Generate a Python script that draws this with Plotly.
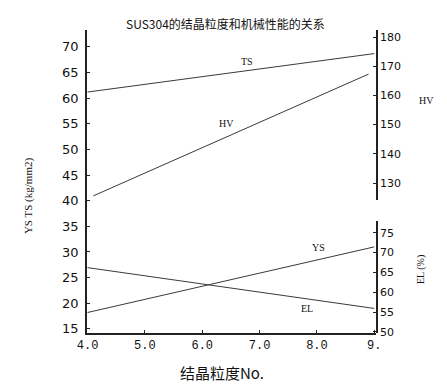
import plotly.graph_objects as go

# ---- data ----
grain_x = [4.0, 9.0]
ts_vals = [61.2, 68.7]          # TS (kg/mm2), left axis
ys_vals = [18.2, 31.0]          # YS (kg/mm2), left axis
hv_x = [4.1, 8.9]
hv_vals = [125.6, 167.3]        # HV, upper right axis
el_vals = [66.2, 55.9]          # EL (%), lower right axis

x_tickvals = [4, 5, 6, 7, 8, 9]
x_ticktext = ["4.0", "5.0", "6.0", "7.0", "8.0", "9."]
left_ticks = [15, 20, 25, 30, 35, 40, 45, 50, 55, 60, 65, 70]
hv_ticks = [130, 140, 150, 160, 170, 180]
el_ticks = [50, 55, 60, 65, 70, 75]

LINE = "#3a3a3a"
AX = "#222222"
CJK = "Noto Sans CJK SC"

fig = go.Figure()
fig.add_trace(go.Scatter(x=grain_x, y=ts_vals, mode="lines", line=dict(color=LINE, width=1), xaxis="x", yaxis="y", name="TS"))
fig.add_trace(go.Scatter(x=grain_x, y=ys_vals, mode="lines", line=dict(color=LINE, width=1), xaxis="x", yaxis="y", name="YS"))
fig.add_trace(go.Scatter(x=hv_x, y=hv_vals, mode="lines", line=dict(color=LINE, width=1), xaxis="x", yaxis="y2", name="HV"))
fig.add_trace(go.Scatter(x=grain_x, y=el_vals, mode="lines", line=dict(color=LINE, width=1), xaxis="x", yaxis="y3", name="EL"))

common = dict(showgrid=False, zeroline=False, showline=True, linecolor=AX, linewidth=1.5,
              ticks="inside", ticklen=3, tickcolor=AX, fixedrange=True, automargin=False)

fig.update_layout(
    width=439, height=376,
    margin=dict(l=79, r=71, t=22, b=51),
    paper_bgcolor="white", plot_bgcolor="rgba(0,0,0,0)",
    showlegend=False,
    xaxis=dict(range=[3.99, 9.03], tickvals=x_tickvals, ticktext=x_ticktext, anchor="y",
               tickfont=dict(family="Liberation Mono", size=12, color="#111"), **common),
    yaxis=dict(range=[14.2, 73.3], tickvals=left_ticks, domain=[0, 1], anchor="x",
               tickfont=dict(family="DejaVu Sans", size=13, color="#111"), ticklabelstandoff=4, **common),
    yaxis2=dict(range=[124.2, 182.4], tickvals=hv_ticks, domain=[0.439, 1], anchor="x", side="right",
                tickfont=dict(family="DejaVu Sans", size=11, color="#111"), **common),
    yaxis3=dict(range=[49.7, 78], tickvals=el_ticks, domain=[0, 0.37], anchor="x", side="right",
                tickfont=dict(family="DejaVu Sans", size=11, color="#111"), **common),
)

serif = "Liberation Serif"
mid = dict(xanchor="center", yanchor="middle", showarrow=False)
ann = [
    dict(text="SUS304的结晶粒度和机械性能的关系", xref="paper", yref="paper", x=0.478, y=1.023,
         font=dict(family=CJK, size=12, color="#111"), **mid),
    dict(text="结晶粒度No.", xref="paper", yref="paper", x=0.467, y=-0.129,
         font=dict(family=CJK, size=15, color="#111"), **mid),
    dict(text="YS TS (kg/mm2)", xref="paper", yref="paper", x=-0.204, y=0.452, textangle=-90,
         font=dict(family=serif, size=11, color="#111"), **mid),
    dict(text="HV", xref="paper", yref="paper", x=1.176, y=0.766,
         font=dict(family=serif, size=10, color="#111"), **mid),
    dict(text="EL (%)", xref="paper", yref="paper", x=1.156, y=0.208, textangle=-90,
         font=dict(family=serif, size=10, color="#111"), **mid),
    dict(text="TS", xref="x", yref="y", x=6.78, y=67.1,
         font=dict(family=serif, size=10, color="#111"), **mid),
    dict(text="HV", xref="x", yref="y", x=6.42, y=55.0,
         font=dict(family=serif, size=10, color="#111"), **mid),
    dict(text="YS", xref="x", yref="y", x=8.03, y=30.8,
         font=dict(family=serif, size=10, color="#111"), **mid),
    dict(text="EL", xref="x", yref="y", x=7.83, y=18.9,
         font=dict(family=serif, size=10, color="#111"), **mid),
]
fig.update_layout(annotations=ann)

fig.write_html("out.html")
